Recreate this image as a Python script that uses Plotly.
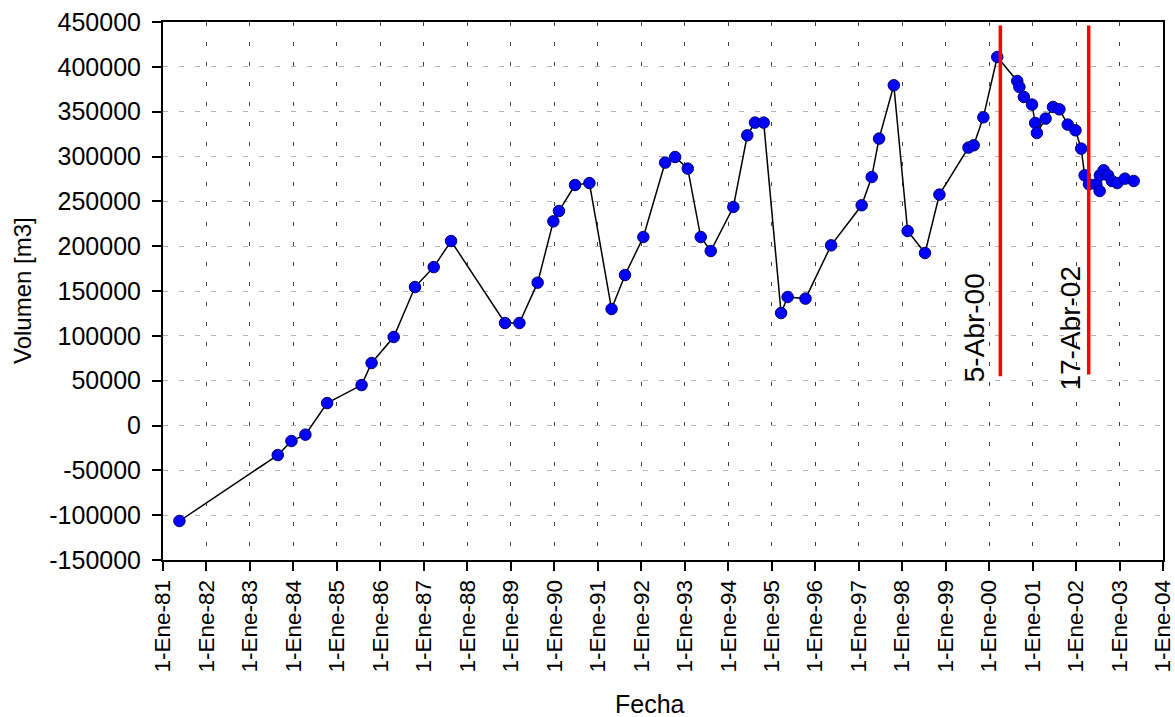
import plotly.graph_objects as go

# ---- data ----
fechas = [
    "1981-05-19", "1983-08-23", "1983-12-16", "1984-04-11", "1984-10-11",
    "1985-07-27", "1985-10-19", "1986-04-23", "1986-10-19", "1987-03-25",
    "1987-08-18", "1988-11-13", "1989-03-14", "1989-08-14", "1989-12-24",
    "1990-02-09", "1990-06-24", "1990-10-23", "1991-04-27", "1991-08-18",
    "1992-01-19", "1992-07-20", "1992-10-12", "1993-01-26", "1993-05-15",
    "1993-08-07", "1994-02-13", "1994-06-10", "1994-08-14", "1994-10-26",
    "1995-03-21", "1995-05-15", "1995-10-12", "1996-05-14", "1997-01-26",
    "1997-04-20", "1997-06-21", "1997-10-23", "1998-02-16", "1998-07-12",
    "1998-11-10", "1999-07-12", "1999-08-25", "1999-11-14", "2000-03-10",
    "2000-08-25", "2000-09-12", "2000-10-19", "2000-12-27", "2001-01-22",
    "2001-02-06", "2001-04-20", "2001-06-21", "2001-08-14", "2001-10-23",
    "2001-12-27", "2002-02-13", "2002-03-14", "2002-04-19", "2002-06-20",
    "2002-07-18", "2002-07-20", "2002-08-21", "2002-09-26", "2002-10-29",
    "2002-12-13", "2003-02-15", "2003-04-30",
]
volumen = [
    -106500, -33000, -17300, -10200, 25000,
    45100, 69700, 98700, 154400, 176700,
    205700, 114300, 114300, 159300, 227700,
    239200, 268200, 270400, 129900, 167800,
    210200, 293200, 299400, 286500, 210200,
    194600, 243700, 323600, 337800, 337800,
    125400, 143300, 141500, 200900, 245600,
    277100, 320000, 379400, 216900, 192400,
    257500, 309900, 312500, 343700, 411000,
    384200, 377500, 366400, 357900, 337400,
    326200, 342300, 355200, 352600, 335600,
    329200, 308800, 279000, 269000, 269000,
    261500, 279000, 284600, 279000, 272700,
    270400, 275300, 272700,
]

eventos_fecha = ["2000-04-05", "2002-04-17"]
eventos_texto = ["5-Abr-00", "17-Abr-02"]
eventos_y = [[55000, 446000], [57000, 446000]]
eventos_xshift = [-26, -18]

x_tickvals = [f"{y}-01-01" for y in range(1981, 2005)]
x_ticktext = [f"1-Ene-{str(y)[2:]}" for y in range(1981, 2005)]
y_tickvals = list(range(-150000, 450001, 50000))
y_ticktext = [str(v) for v in y_tickvals]

FONT = "Liberation Sans, Arial, sans-serif"

fig = go.Figure()

fig.add_trace(go.Scatter(
    x=fechas, y=volumen, mode="lines+markers",
    line=dict(color="black", width=1.5),
    marker=dict(size=11.5, color="#0000ff", line=dict(color="#00006e", width=1)),
    showlegend=False,
))

for f, yy in zip(eventos_fecha, eventos_y):
    fig.add_trace(go.Scatter(
        x=[f, f], y=yy, mode="lines",
        line=dict(color="#ff0000", width=3.5),
        showlegend=False,
    ))

for f, t, dx in zip(eventos_fecha, eventos_texto, eventos_xshift):
    fig.add_annotation(
        x=f, y=108900, text=t, textangle=-90, showarrow=False,
        xanchor="center", yanchor="middle", xshift=dx,
        font=dict(family=FONT, size=28, color="black"),
    )

fig.add_annotation(
    xref="paper", yref="paper", x=0.487, y=-0.268, text="Fecha",
    showarrow=False, xanchor="center", yanchor="middle",
    font=dict(family=FONT, size=25, color="black"),
)
fig.add_annotation(
    xref="paper", yref="paper", x=-0.141, y=0.5, text="Volumen [m3]",
    textangle=-90, showarrow=False, xanchor="center", yanchor="middle",
    font=dict(family=FONT, size=24, color="black"),
)

fig.update_xaxes(
    type="date", range=["1981-01-01", "2004-01-01 03:00"],
    tickvals=x_tickvals, ticktext=x_ticktext, tickangle=-90,
    ticks="outside", ticklen=9, tickwidth=1.5, tickcolor="black",
    ticklabeloverflow="allow",
    showline=True, linecolor="black", linewidth=2, mirror=True,
    showgrid=True, gridcolor="#404040", gridwidth=1, griddash="4px,16px",
    zeroline=False, automargin=False,
    tickfont=dict(family=FONT, size=22.5, color="black"),
)
fig.update_yaxes(
    range=[-150000, 450000],
    tickvals=y_tickvals, ticktext=y_ticktext,
    ticks="outside", ticklen=9, tickwidth=1.5, tickcolor="black",
    ticklabelstandoff=6,
    showline=True, linecolor="black", linewidth=2, mirror=True,
    showgrid=True, gridcolor="#b4b4b4", gridwidth=1, griddash="5px,11px",
    zeroline=False, automargin=False,
    tickfont=dict(family=FONT, size=25, color="black"),
)

fig.update_layout(
    width=1175, height=717,
    margin=dict(l=163, r=12, t=22, b=157, autoexpand=False),
    paper_bgcolor="white", plot_bgcolor="white",
    font=dict(family=FONT, color="black"),
)

fig.write_html(
    "out.html",
    config={"displayModeBar": False},
    post_script="document.body.style.margin='0';document.body.style.padding='0';document.body.style.overflow='hidden';",
)
